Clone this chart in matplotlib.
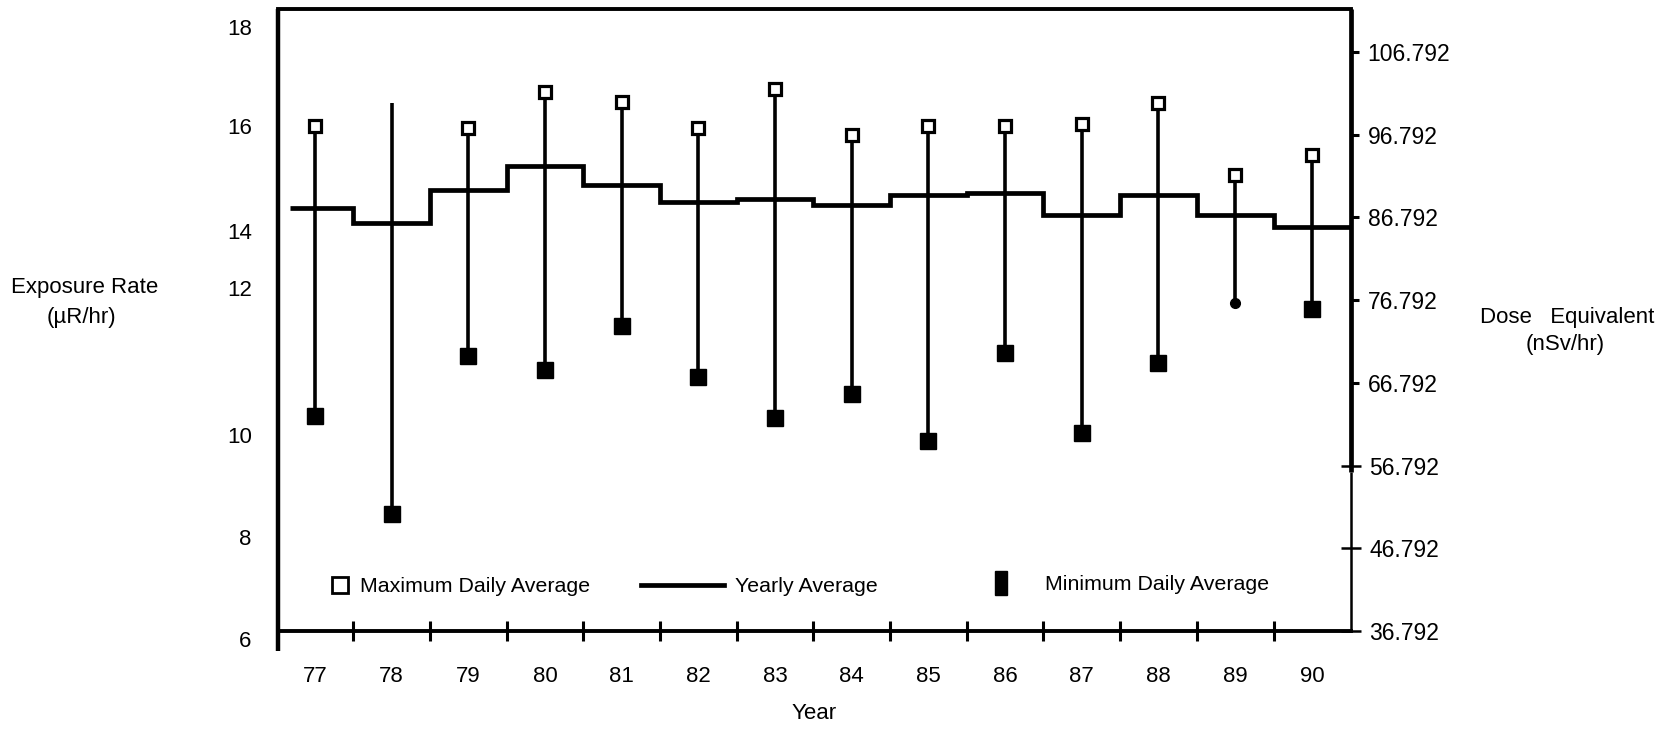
import numpy as np
import matplotlib
matplotlib.use("Agg")
import matplotlib.pyplot as plt
from matplotlib.lines import Line2D
from matplotlib.patches import Rectangle
from matplotlib.transforms import ScaledTranslation

plt.rcParams['font.family'] = ['Liberation Sans', 'DejaVu Sans']

# ---- data (exposure rate, microR/hr) ----
years = [77, 78, 79, 80, 81, 82, 83, 84, 85, 86, 87, 88, 89, 90]
year_labels = ['77', '78', '79', '80', '81', '82', '83', '84', '85', '86', '87', '88', '89', '90']
max_daily = [15.91, 16.35, 15.86, 16.57, 16.37, 15.86, 16.62, 15.72, 15.91, 15.91, 15.95, 16.35, 14.94, 15.34]
min_daily = [10.22, 8.30, 11.39, 11.12, 11.98, 10.99, 10.18, 10.64, 9.72, 11.45, 9.88, 11.26, 12.43, 12.31]
yearly_avg = [14.30, 14.00, 14.65, 15.11, 14.74, 14.42, 14.48, 14.36, 14.55, 14.59, 14.15, 14.55, 14.15, 13.92]
left_ticks = [6, 8, 10, 12, 14, 16, 18]
right_ticks_upper = [66.792, 76.792, 86.792, 96.792, 106.792]
right_ticks_lower = [36.792, 46.792, 56.792]

fig = plt.figure(figsize=(16.72, 7.31), dpi=100)
ax = fig.add_axes([0.1663, 0.1368, 0.808 - 0.1663, 0.9877 - 0.1368])
ax.set_xlim(76.52, 90.51)
ax.set_ylim(6, 18.196)

yrs = np.array(years, dtype=float)
edges = np.r_[yrs[0] - 0.32, yrs[1:] - 0.5, yrs[-1] + 0.51]

# stems
ax.vlines(yrs, min_daily, max_daily, colors='black', lw=2.6, zorder=2)
# yearly average step line
ax.stairs(yearly_avg, edges, baseline=None, color='black', lw=3.4, zorder=3)
# maximum markers (78 has no visible box)
mx = [(x, v) for x, v in zip(years, max_daily) if x != 78]
ax.plot([p[0] for p in mx], [p[1] for p in mx], ls='none', marker='s', ms=9,
        mfc='white', mec='black', mew=2.3, zorder=4)
# minimum markers (89 drawn as dot)
mn = [(x, v) for x, v in zip(years, min_daily) if x != 89]
ax.plot([p[0] for p in mn], [p[1] for p in mn], ls='none', marker='s', ms=11,
        mfc='black', mec='black', zorder=4)
mn89 = [(x, v) for x, v in zip(years, min_daily) if x == 89]
ax.plot([p[0] for p in mn89], [p[1] for p in mn89], ls='none', marker='o', ms=7,
        mfc='black', mec='black', zorder=4)

# spines
for s in ['left', 'right', 'top', 'bottom']:
    ax.spines[s].set_visible(False)
ax.plot([0, 0], [-0.032, 1], transform=ax.transAxes, color='black', lw=3.2, clip_on=False, solid_capstyle='butt')
ax.plot([0, 1], [1, 1], transform=ax.transAxes, color='black', lw=2.8, clip_on=False)
ax.plot([0, 1], [0, 0], transform=ax.transAxes, color='black', lw=2.8, clip_on=False)

# x axis
ax.set_xticks(years)
ax.set_xticklabels(year_labels, fontsize=16)
ax.tick_params(axis='x', which='major', length=0, pad=25)
ax.set_xticks(yrs[:-1] + 0.5, minor=True)
ax.tick_params(axis='x', which='minor', direction='inout', length=14, width=2.2)
ax.set_xlabel('Year', fontsize=16)
ax.xaxis.set_label_coords(0.5, -0.116)

# left y axis
ax.set_yticks(left_ticks)
ax.set_yticklabels([str(t) for t in left_ticks], fontsize=16)
ax.tick_params(axis='y', which='major', length=0, pad=19)
for t, lab in zip(left_ticks, ax.get_yticklabels()):
    dy = {12: 0.37, 16: -0.05}.get(t, -0.08)
    lab.set_transform(lab.get_transform() + ScaledTranslation(0, dy, fig.dpi_scale_trans))

fig.text(11 / 1672, 1 - 288 / 731, 'Exposure Rate', fontsize=16, va='center', ha='left')
fig.text(81 / 1672, 1 - 317 / 731, '(\u00b5R/hr)', fontsize=16, va='center', ha='center')

# right y axis
ax2 = ax.twinx()
for s in ['left', 'right', 'top', 'bottom']:
    ax2.spines[s].set_visible(False)
ax2.set_ylim(36.792, 112.0)
ax2.set_yticks(right_ticks_upper)
ax2.set_yticklabels([f'{t:.3f}' for t in right_ticks_upper], fontsize=16.5)
ax2.tick_params(axis='y', which='major', direction='out', length=6, width=2.2, pad=6)
ax2.set_yticks(right_ticks_lower, minor=True)
ax2.set_yticklabels([f'{t:.3f}' for t in right_ticks_lower], minor=True, fontsize=16.5)
ax2.tick_params(axis='y', which='minor', direction='inout', length=14, width=1.8, pad=6)
ax2.plot([1, 1], [0.255, 1], transform=ax2.transAxes, color='black', lw=3.4, clip_on=False, solid_capstyle='butt')
ax2.plot([1, 1], [0, 0.255], transform=ax2.transAxes, color='black', lw=1.8, clip_on=False, solid_capstyle='butt')

fig.text(1567 / 1672, 1 - 317 / 731, 'Dose   Equivalent', fontsize=16, va='center', ha='center')
fig.text(1565 / 1672, 1 - 345 / 731, '(nSv/hr)', fontsize=16, va='center', ha='center')

# legends
h_max = Line2D([], [], ls='none', marker='s', ms=11, mfc='white', mec='black', mew=2.0)
h_avg = Line2D([], [], color='black', lw=3.4)
h_min = Rectangle((0, 0), 1, 1, facecolor='black', edgecolor='black')
leg_y = 1 - 587 / 731
fig.legend([h_max], ['Maximum Daily Average'], loc='center left',
           bbox_to_anchor=(330 / 1672, leg_y), frameon=False, fontsize=15.4,
           handlelength=0.9, handletextpad=0.5, borderpad=0, borderaxespad=0)
fig.legend([h_avg], ['Yearly Average'], loc='center left',
           bbox_to_anchor=(641 / 1672, leg_y), frameon=False, fontsize=15.4,
           handlelength=3.9, handletextpad=0.5, borderpad=0, borderaxespad=0)
fig.legend([h_min], ['Minimum Daily Average'], loc='center left',
           bbox_to_anchor=(995 / 1672, leg_y + 0.005), frameon=False, fontsize=15.4,
           handlelength=0.55, handleheight=1.35, handletextpad=1.8, borderpad=0, borderaxespad=0)

fig.savefig('out.png', dpi=100)
